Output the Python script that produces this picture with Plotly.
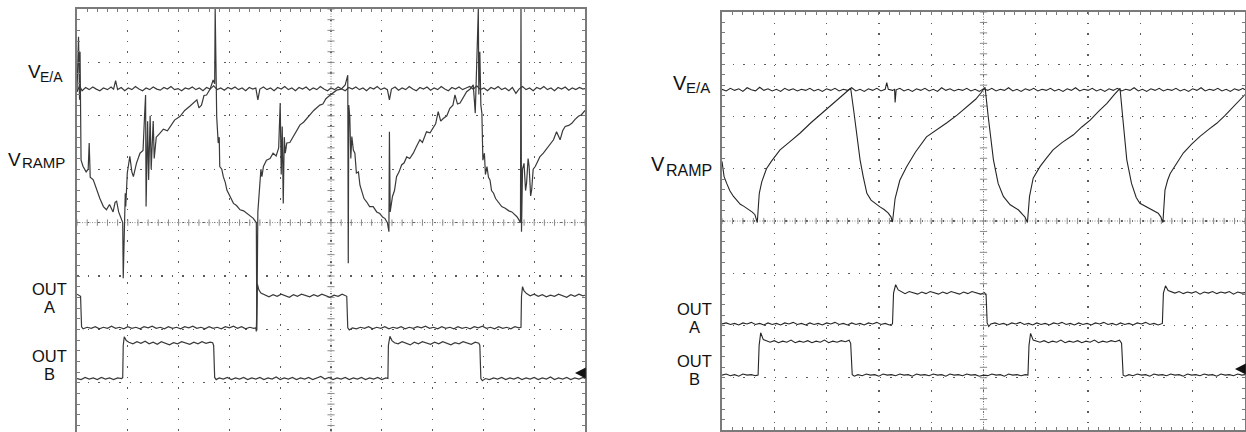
import numpy as np
import plotly.graph_objects as go

W, H = 1246, 432

# ---------------- data (time in divisions 0..10, amplitude in divisions 0..8) -------------
# Left screen
L_VEA = [(0.00,6.45),(0.05,6.56),(0.10,6.47),(0.17,6.53),(0.24,6.49),(0.31,6.54),(0.38,6.50),(0.45,6.47),(0.52,6.52),(0.60,6.49),(0.67,6.54),(0.72,6.50),(0.76,6.66),(0.80,6.49),(0.87,6.53),(0.94,6.47),(1.01,6.52),(1.08,6.49),(1.15,6.55),(1.22,6.50),(1.29,6.47),(1.36,6.52),(1.43,6.49),(1.50,6.54),(1.57,6.50),(1.64,6.48),(1.71,6.53),(1.78,6.50),(1.85,6.55),(1.92,6.49),(1.99,6.51),(2.06,6.47),(2.13,6.52),(2.20,6.50),(2.27,6.54),(2.34,6.49),(2.41,6.52),(2.48,6.47),(2.55,6.53),(2.62,6.50),(2.69,6.56),(2.76,6.49),(2.83,6.52),(2.90,6.48),(2.97,6.53),(3.04,6.50),(3.11,6.54),(3.18,6.49),(3.25,6.52),(3.32,6.47),(3.39,6.53),(3.46,6.50),(3.52,6.52),(3.56,6.30),(3.60,6.50),(3.67,6.54),(3.74,6.49),(3.81,6.52),(3.88,6.47),(3.95,6.53),(4.02,6.50),(4.09,6.55),(4.16,6.49),(4.23,6.52),(4.30,6.47),(4.37,6.53),(4.44,6.50),(4.51,6.54),(4.58,6.48),(4.65,6.52),(4.72,6.49),(4.79,6.55),(4.86,6.50),(4.93,6.47),(5.00,6.52),(5.07,6.49),(5.14,6.54),(5.21,6.50),(5.28,6.47),(5.35,6.53),(5.42,6.50),(5.49,6.54),(5.56,6.49),(5.63,6.52),(5.70,6.47),(5.77,6.53),(5.84,6.50),(5.91,6.55),(5.98,6.49),(6.05,6.52),(6.11,6.49),(6.15,6.30),(6.19,6.50),(6.26,6.54),(6.33,6.48),(6.40,6.52),(6.47,6.49),(6.54,6.55),(6.61,6.50),(6.68,6.47),(6.75,6.53),(6.82,6.50),(6.89,6.54),(6.96,6.48),(7.03,6.52),(7.10,6.49),(7.17,6.55),(7.24,6.50),(7.31,6.47),(7.38,6.53),(7.45,6.50),(7.52,6.54),(7.59,6.49),(7.66,6.52),(7.73,6.55),(7.80,6.50),(7.87,6.56),(7.94,6.49),(8.01,6.52),(8.08,6.47),(8.15,6.53),(8.22,6.50),(8.29,6.55),(8.36,6.49),(8.43,6.52),(8.50,6.47),(8.57,6.53),(8.64,6.42),(8.70,6.50),(8.77,6.55),(8.84,6.49),(8.91,6.52),(8.98,6.47),(9.05,6.53),(9.12,6.50),(9.19,6.55),(9.26,6.49),(9.33,6.52),(9.40,6.47),(9.47,6.53),(9.54,6.50),(9.61,6.54),(9.68,6.48),(9.75,6.52),(9.82,6.49),(9.89,6.53),(9.96,6.50),(10.0,6.51)]

L_RAMP = [(0.00,6.45),(0.03,7.48),(0.05,6.30),(0.06,7.20),(0.08,5.17),(0.12,5.05),(0.18,4.95),(0.22,5.00),(0.24,5.49),(0.26,4.85),(0.32,4.80),(0.39,4.61),(0.45,4.45),(0.52,4.30),(0.58,4.24),(0.64,4.34),(0.71,4.20),(0.75,4.38),(0.78,4.40),(0.82,4.20),(0.85,4.11),(0.90,4.00),(0.91,2.96),(0.93,3.60),(0.95,4.55),(0.96,4.30),(0.99,4.93),(1.04,5.24),(1.08,4.95),(1.11,4.86),(1.17,5.11),(1.24,5.30),(1.30,5.35),(1.33,6.00),(1.35,6.39),(1.36,4.30),(1.39,5.90),(1.41,4.80),(1.44,6.00),(1.46,5.00),(1.50,5.90),(1.52,5.20),(1.56,5.60),(1.63,5.67),(1.70,5.75),(1.78,5.72),(1.83,5.80),(1.92,5.92),(2.03,5.99),(2.12,6.10),(2.22,6.18),(2.30,6.25),(2.36,6.30),(2.40,6.15),(2.45,6.20),(2.50,6.38),(2.55,6.39),(2.62,6.50),(2.68,6.67),(2.71,6.60),(2.72,8.00),(2.735,7.00),(2.75,5.98),(2.78,5.49),(2.80,5.60),(2.81,5.05),(2.85,5.00),(2.88,4.86),(2.92,4.75),(2.95,4.61),(3.01,4.49),(3.08,4.36),(3.14,4.32),(3.21,4.24),(3.28,4.22),(3.34,4.17),(3.42,4.12),(3.47,4.08),(3.53,4.00),(3.54,1.98),(3.56,4.20),(3.59,4.61),(3.62,5.00),(3.64,4.86),(3.67,5.05),(3.73,5.17),(3.80,5.20),(3.86,5.30),(3.92,5.25),(3.97,5.40),(4.00,6.24),(4.02,4.90),(4.04,5.80),(4.06,4.36),(4.08,5.60),(4.10,5.30),(4.13,5.49),(4.19,5.50),(4.26,5.61),(4.32,5.70),(4.39,5.83),(4.46,5.88),(4.52,5.95),(4.59,6.02),(4.66,6.10),(4.72,6.15),(4.78,6.20),(4.84,6.22),(4.90,6.32),(4.95,6.36),(5.03,6.42),(5.11,6.48),(5.20,6.50),(5.28,6.58),(5.33,6.76),(5.34,3.24),(5.35,6.20),(5.37,5.98),(5.39,5.20),(5.41,5.61),(5.44,5.36),(5.47,5.30),(5.50,4.93),(5.54,4.95),(5.57,4.70),(5.60,4.61),(5.65,4.45),(5.70,4.39),(5.76,4.30),(5.83,4.30),(5.90,4.20),(5.96,4.17),(6.02,4.10),(6.06,4.08),(6.11,4.00),(6.14,3.83),(6.15,5.70),(6.165,4.20),(6.21,4.49),(6.25,4.60),(6.29,4.86),(6.34,4.95),(6.39,5.08),(6.44,5.12),(6.49,5.23),(6.55,5.20),(6.62,5.30),(6.68,5.42),(6.75,5.55),(6.80,5.50),(6.88,5.70),(6.95,5.68),(7.01,5.76),(7.06,5.85),(7.11,6.08),(7.16,5.90),(7.21,5.95),(7.28,6.00),(7.34,6.14),(7.40,6.20),(7.44,6.39),(7.49,6.22),(7.54,6.24),(7.60,6.35),(7.67,6.45),(7.74,6.50),(7.80,6.58),(7.84,6.05),(7.86,6.64),(7.89,7.50),(7.90,8.00),(7.91,6.40),(7.93,7.20),(7.95,6.20),(7.97,6.05),(7.99,5.17),(8.02,5.30),(8.04,4.90),(8.07,5.05),(8.10,4.85),(8.13,4.80),(8.16,4.60),(8.20,4.55),(8.24,4.45),(8.29,4.39),(8.36,4.30),(8.43,4.27),(8.50,4.22),(8.56,4.20),(8.62,4.15),(8.66,4.11),(8.70,4.05),(8.73,4.00),(8.74,8.00),(8.75,3.83),(8.77,5.00),(8.80,5.11),(8.83,4.60),(8.85,4.74),(8.88,5.20),(8.90,5.05),(8.93,4.50),(8.95,4.61),(8.98,5.00),(9.02,5.05),(9.07,5.15),(9.11,5.23),(9.18,5.30),(9.25,5.39),(9.31,5.45),(9.38,5.55),(9.44,5.70),(9.51,5.55),(9.56,5.72),(9.61,5.80),(9.68,5.82),(9.74,5.86),(9.80,5.93),(9.87,5.99),(9.93,6.02),(9.97,6.08),(10.0,6.10)]

L_OUTA = [(0.00,2.66),(0.04,2.64),(0.07,2.62),(0.09,2.05),(0.12,2.01),(0.20,2.04),(0.28,2.02),(0.36,2.05),(0.44,2.01),(0.52,2.04),(0.60,2.02),(0.68,2.06),(0.76,2.02),(0.84,2.04),(0.92,2.01),(1.00,2.05),(1.08,2.02),(1.16,2.04),(1.24,2.01),(1.32,2.05),(1.40,2.03),(1.48,2.06),(1.56,2.02),(1.64,2.04),(1.72,2.01),(1.80,2.05),(1.88,2.02),(1.96,2.04),(2.04,2.01),(2.12,2.05),(2.20,2.03),(2.28,2.06),(2.36,2.02),(2.44,2.04),(2.52,2.01),(2.60,2.05),(2.68,2.02),(2.76,2.04),(2.84,2.01),(2.92,2.05),(3.00,2.03),(3.08,2.06),(3.16,2.02),(3.24,2.05),(3.32,2.01),(3.40,2.04),(3.48,2.02),(3.52,2.03),(3.53,1.96),(3.55,2.85),(3.58,2.74),(3.62,2.68),(3.70,2.64),(3.78,2.61),(3.86,2.65),(3.94,2.62),(4.02,2.66),(4.10,2.63),(4.18,2.60),(4.26,2.65),(4.34,2.62),(4.42,2.66),(4.50,2.63),(4.58,2.61),(4.66,2.65),(4.74,2.62),(4.82,2.66),(4.90,2.63),(4.98,2.60),(5.06,2.64),(5.14,2.62),(5.22,2.66),(5.29,2.64),(5.31,2.62),(5.33,2.03),(5.36,1.99),(5.42,2.03),(5.50,2.01),(5.58,2.04),(5.66,2.02),(5.74,2.05),(5.82,2.01),(5.90,2.04),(5.98,2.02),(6.06,2.05),(6.14,2.01),(6.22,2.04),(6.30,2.02),(6.38,2.05),(6.46,2.01),(6.54,2.04),(6.62,2.02),(6.70,2.05),(6.78,2.03),(6.86,2.06),(6.94,2.02),(7.02,2.04),(7.10,2.01),(7.18,2.05),(7.26,2.02),(7.34,2.04),(7.42,2.01),(7.50,2.05),(7.58,2.02),(7.66,2.04),(7.74,2.01),(7.82,2.05),(7.90,2.03),(7.98,2.06),(8.06,2.02),(8.14,2.04),(8.22,2.01),(8.30,2.05),(8.38,2.02),(8.46,2.04),(8.54,2.01),(8.62,2.05),(8.70,2.03),(8.74,2.04),(8.75,2.62),(8.77,2.80),(8.80,2.72),(8.85,2.67),(8.92,2.63),(9.00,2.66),(9.08,2.62),(9.16,2.65),(9.24,2.61),(9.32,2.64),(9.40,2.62),(9.48,2.66),(9.56,2.63),(9.64,2.60),(9.72,2.65),(9.80,2.62),(9.88,2.66),(9.96,2.63),(10.0,2.64)]

L_OUTB = [(0.00,1.08),(0.08,1.06),(0.16,1.10),(0.24,1.07),(0.32,1.09),(0.40,1.06),(0.48,1.10),(0.56,1.07),(0.64,1.09),(0.72,1.06),(0.80,1.09),(0.88,1.08),(0.90,1.10),(0.91,1.70),(0.93,1.86),(0.97,1.79),(1.02,1.76),(1.10,1.73),(1.18,1.77),(1.26,1.74),(1.34,1.78),(1.42,1.73),(1.50,1.76),(1.58,1.72),(1.66,1.77),(1.74,1.74),(1.82,1.71),(1.90,1.75),(1.98,1.73),(2.06,1.77),(2.14,1.74),(2.22,1.72),(2.30,1.76),(2.38,1.73),(2.46,1.77),(2.54,1.74),(2.62,1.76),(2.67,1.75),(2.69,1.70),(2.71,1.10),(2.74,1.06),(2.80,1.09),(2.88,1.07),(2.96,1.10),(3.04,1.06),(3.12,1.09),(3.20,1.07),(3.28,1.10),(3.36,1.06),(3.44,1.09),(3.52,1.07),(3.60,1.10),(3.68,1.06),(3.76,1.09),(3.84,1.07),(3.92,1.11),(4.00,1.06),(4.08,1.09),(4.16,1.07),(4.24,1.10),(4.32,1.06),(4.40,1.09),(4.48,1.07),(4.56,1.10),(4.64,1.06),(4.72,1.09),(4.80,1.12),(4.88,1.07),(4.96,1.10),(5.04,1.06),(5.12,1.09),(5.20,1.07),(5.28,1.10),(5.36,1.06),(5.44,1.09),(5.52,1.07),(5.60,1.10),(5.68,1.06),(5.76,1.09),(5.84,1.07),(5.92,1.10),(6.00,1.06),(6.08,1.09),(6.12,1.08),(6.13,1.70),(6.16,1.87),(6.20,1.79),(6.25,1.75),(6.32,1.73),(6.40,1.77),(6.48,1.74),(6.56,1.71),(6.64,1.76),(6.72,1.73),(6.80,1.77),(6.88,1.74),(6.96,1.72),(7.04,1.76),(7.12,1.73),(7.20,1.77),(7.28,1.74),(7.36,1.71),(7.44,1.75),(7.52,1.73),(7.60,1.77),(7.68,1.74),(7.76,1.72),(7.84,1.76),(7.91,1.74),(7.93,1.70),(7.95,1.08),(7.98,1.04),(8.04,1.08),(8.12,1.06),(8.20,1.09),(8.28,1.07),(8.36,1.10),(8.44,1.06),(8.52,1.09),(8.60,1.07),(8.68,1.10),(8.76,1.06),(8.84,1.09),(8.92,1.07),(9.00,1.10),(9.08,1.06),(9.16,1.09),(9.24,1.07),(9.32,1.11),(9.40,1.06),(9.48,1.09),(9.56,1.07),(9.64,1.10),(9.72,1.06),(9.80,1.09),(9.88,1.07),(9.96,1.10),(10.0,1.08)]

# Right screen
R_VEA = [(0.00,6.52),(0.08,6.49),(0.16,6.54),(0.24,6.50),(0.32,6.53),(0.40,6.48),(0.48,6.55),(0.56,6.51),(0.64,6.49),(0.72,6.56),(0.80,6.50),(0.88,6.53),(0.96,6.49),(1.04,6.52),(1.12,6.48),(1.20,6.54),(1.28,6.50),(1.36,6.53),(1.44,6.49),(1.52,6.52),(1.60,6.50),(1.68,6.54),(1.76,6.49),(1.84,6.52),(1.92,6.48),(2.00,6.53),(2.08,6.50),(2.16,6.54),(2.24,6.49),(2.32,6.52),(2.40,6.50),(2.48,6.55),(2.56,6.49),(2.64,6.52),(2.72,6.48),(2.80,6.53),(2.88,6.50),(2.96,6.54),(3.04,6.49),(3.12,6.52),(3.15,6.65),(3.18,6.52),(3.26,6.50),(3.30,6.52),(3.31,6.27),(3.33,6.51),(3.40,6.54),(3.48,6.49),(3.56,6.52),(3.64,6.48),(3.72,6.53),(3.80,6.50),(3.88,6.54),(3.96,6.49),(4.04,6.52),(4.12,6.48),(4.20,6.55),(4.28,6.50),(4.36,6.53),(4.44,6.49),(4.52,6.52),(4.60,6.50),(4.68,6.54),(4.76,6.49),(4.84,6.52),(4.92,6.48),(5.00,6.53),(5.08,6.50),(5.16,6.54),(5.24,6.49),(5.32,6.52),(5.40,6.50),(5.48,6.55),(5.56,6.49),(5.64,6.52),(5.72,6.48),(5.80,6.53),(5.88,6.50),(5.96,6.54),(6.04,6.49),(6.12,6.52),(6.20,6.50),(6.28,6.54),(6.36,6.49),(6.44,6.52),(6.52,6.48),(6.60,6.53),(6.68,6.50),(6.76,6.55),(6.84,6.49),(6.92,6.52),(7.00,6.50),(7.08,6.54),(7.16,6.49),(7.24,6.52),(7.32,6.48),(7.40,6.53),(7.48,6.50),(7.56,6.54),(7.64,6.49),(7.72,6.52),(7.80,6.50),(7.88,6.55),(7.96,6.49),(8.04,6.52),(8.12,6.48),(8.20,6.53),(8.28,6.50),(8.36,6.54),(8.44,6.49),(8.52,6.52),(8.60,6.50),(8.68,6.54),(8.76,6.49),(8.84,6.52),(8.92,6.48),(9.00,6.53),(9.08,6.50),(9.16,6.55),(9.24,6.49),(9.32,6.52),(9.40,6.50),(9.48,6.54),(9.56,6.49),(9.64,6.52),(9.72,6.48),(9.80,6.53),(9.88,6.50),(9.96,6.54),(10.0,6.51)]

R_RAMP = [(0.00,5.14),(0.04,4.85),(0.09,4.72),(0.15,4.58),(0.22,4.47),(0.28,4.40),(0.35,4.32),(0.42,4.28),(0.48,4.24),(0.535,4.21),(0.58,4.17),(0.63,4.12),(0.675,3.97),(0.70,4.35),(0.713,4.53),(0.76,4.75),(0.85,5.00),(0.95,5.15),(1.11,5.36),(1.30,5.52),(1.49,5.68),(1.70,5.88),(1.94,6.09),(2.10,6.24),(2.26,6.38),(2.38,6.47),(2.46,6.54),(2.52,6.10),(2.58,5.60),(2.64,5.17),(2.70,4.85),(2.77,4.53),(2.85,4.40),(2.95,4.32),(3.02,4.27),(3.10,4.22),(3.18,4.15),(3.23,4.08),(3.26,3.98),(3.31,4.43),(3.40,4.78),(3.53,5.04),(3.70,5.32),(3.91,5.61),(4.17,5.78),(4.30,5.88),(4.50,6.03),(4.70,6.20),(4.85,6.33),(4.95,6.45),(5.03,6.56),(5.09,6.00),(5.14,5.55),(5.19,5.17),(5.28,4.72),(5.38,4.47),(5.51,4.31),(5.60,4.26),(5.67,4.21),(5.75,4.12),(5.79,4.08),(5.84,3.97),(5.88,4.47),(5.95,4.82),(6.08,5.04),(6.20,5.20),(6.33,5.36),(6.50,5.50),(6.72,5.65),(6.88,5.80),(7.04,5.93),(7.20,6.10),(7.36,6.25),(7.50,6.42),(7.61,6.54),(7.67,5.90),(7.74,5.17),(7.83,4.72),(7.92,4.45),(7.99,4.34),(8.10,4.28),(8.18,4.24),(8.26,4.20),(8.34,4.15),(8.39,4.08),(8.43,3.97),(8.47,4.59),(8.52,4.78),(8.57,4.91),(8.70,5.12),(8.82,5.30),(8.98,5.47),(9.14,5.62),(9.30,5.75),(9.46,5.87),(9.62,6.02),(9.78,6.19),(9.90,6.32),(10.0,6.42)]

R_OUTA = [(0.00,2.03),(0.08,2.05),(0.16,2.02),(0.24,2.04),(0.32,2.01),(0.40,2.05),(0.48,2.03),(0.56,2.06),(0.64,2.02),(0.72,2.04),(0.80,2.01),(0.88,2.05),(0.96,2.02),(1.04,2.04),(1.12,2.01),(1.20,2.05),(1.28,2.03),(1.36,2.06),(1.44,2.02),(1.52,2.04),(1.60,2.01),(1.68,2.05),(1.76,2.02),(1.84,2.04),(1.92,2.01),(2.00,2.05),(2.08,2.03),(2.16,2.06),(2.24,2.02),(2.32,2.04),(2.40,2.01),(2.48,2.05),(2.56,2.02),(2.64,2.04),(2.72,2.01),(2.80,2.05),(2.88,2.03),(2.96,2.06),(3.04,2.02),(3.12,2.04),(3.20,2.01),(3.26,2.03),(3.28,2.62),(3.32,2.78),(3.37,2.68),(3.43,2.64),(3.50,2.61),(3.58,2.65),(3.66,2.62),(3.74,2.60),(3.82,2.64),(3.90,2.61),(3.98,2.65),(4.06,2.62),(4.14,2.60),(4.22,2.64),(4.30,2.61),(4.38,2.65),(4.46,2.62),(4.54,2.60),(4.62,2.64),(4.70,2.61),(4.78,2.65),(4.86,2.62),(4.94,2.60),(5.02,2.63),(5.04,2.61),(5.05,2.58),(5.07,2.05),(5.10,1.98),(5.14,2.03),(5.22,2.05),(5.30,2.02),(5.38,2.04),(5.46,2.01),(5.54,2.05),(5.62,2.03),(5.70,2.06),(5.78,2.02),(5.86,2.04),(5.94,2.01),(6.02,2.05),(6.10,2.02),(6.18,2.04),(6.26,2.01),(6.34,2.05),(6.42,2.03),(6.50,2.06),(6.58,2.02),(6.66,2.04),(6.74,2.01),(6.82,2.05),(6.90,2.02),(6.98,2.04),(7.06,2.01),(7.14,2.05),(7.22,2.03),(7.30,2.06),(7.38,2.02),(7.46,2.04),(7.54,2.01),(7.62,2.05),(7.70,2.02),(7.78,2.04),(7.86,2.01),(7.94,2.05),(8.02,2.03),(8.10,2.06),(8.18,2.02),(8.26,2.04),(8.34,2.01),(8.42,2.04),(8.44,2.62),(8.48,2.76),(8.53,2.67),(8.58,2.65),(8.66,2.62),(8.74,2.65),(8.82,2.61),(8.90,2.64),(8.98,2.62),(9.06,2.65),(9.14,2.60),(9.22,2.64),(9.30,2.62),(9.38,2.65),(9.46,2.61),(9.54,2.64),(9.62,2.62),(9.70,2.65),(9.78,2.60),(9.86,2.64),(9.94,2.62),(10.0,2.63)]

R_OUTB = [(0.00,1.05),(0.08,1.07),(0.16,1.04),(0.24,1.06),(0.32,1.03),(0.40,1.07),(0.48,1.05),(0.56,1.06),(0.64,1.04),(0.69,1.05),(0.71,1.62),(0.74,1.86),(0.79,1.73),(0.85,1.70),(0.92,1.68),(1.00,1.71),(1.08,1.67),(1.16,1.70),(1.24,1.68),(1.32,1.72),(1.40,1.67),(1.48,1.70),(1.56,1.68),(1.64,1.71),(1.72,1.67),(1.80,1.70),(1.88,1.68),(1.96,1.72),(2.04,1.67),(2.12,1.70),(2.20,1.68),(2.28,1.71),(2.36,1.69),(2.43,1.72),(2.45,1.69),(2.46,1.66),(2.49,1.06),(2.53,1.03),(2.60,1.06),(2.68,1.04),(2.76,1.07),(2.84,1.05),(2.92,1.06),(3.00,1.03),(3.08,1.07),(3.16,1.05),(3.24,1.06),(3.32,1.04),(3.40,1.07),(3.48,1.05),(3.56,1.06),(3.64,1.03),(3.72,1.07),(3.80,1.05),(3.88,1.06),(3.96,1.04),(4.04,1.07),(4.12,1.05),(4.20,1.06),(4.28,1.03),(4.36,1.07),(4.44,1.05),(4.52,1.06),(4.60,1.04),(4.68,1.07),(4.76,1.05),(4.84,1.06),(4.92,1.03),(5.00,1.05),(5.08,1.04),(5.16,1.07),(5.24,1.05),(5.32,1.06),(5.40,1.03),(5.48,1.07),(5.56,1.05),(5.64,1.06),(5.72,1.04),(5.80,1.06),(5.85,1.05),(5.87,1.62),(5.90,1.85),(5.95,1.72),(6.01,1.70),(6.08,1.68),(6.16,1.71),(6.24,1.67),(6.32,1.70),(6.40,1.68),(6.48,1.72),(6.56,1.67),(6.64,1.70),(6.72,1.68),(6.80,1.71),(6.88,1.67),(6.96,1.70),(7.04,1.68),(7.12,1.72),(7.20,1.67),(7.28,1.70),(7.36,1.68),(7.44,1.71),(7.52,1.69),(7.60,1.72),(7.63,1.69),(7.64,1.66),(7.67,1.05),(7.71,1.03),(7.78,1.06),(7.86,1.04),(7.94,1.07),(8.02,1.05),(8.10,1.06),(8.18,1.03),(8.26,1.07),(8.34,1.05),(8.42,1.06),(8.50,1.04),(8.58,1.07),(8.66,1.05),(8.74,1.06),(8.82,1.03),(8.90,1.07),(8.98,1.05),(9.06,1.06),(9.14,1.04),(9.22,1.07),(9.30,1.05),(9.38,1.06),(9.46,1.03),(9.54,1.07),(9.62,1.05),(9.70,1.06),(9.78,1.04),(9.86,1.07),(9.94,1.05),(10.0,1.06)]

# Labels: (text, x_px, y_px, size, anchor)
L_LABELS = [("V", 41.5, 72, 19, "right"), ("E/A", 64, 76.5, 14, "right"),
            ("V", 22, 159, 19, "right"), ("RAMP", 66, 162.5, 15, "right"),
            ("OUT", 49, 288.5, 16.5, "center"), ("A", 49, 306.5, 16.5, "center"),
            ("OUT", 49, 355.5, 16.5, "center"), ("B", 49, 373.5, 16.5, "center")]
R_LABELS = [("V", 688, 82.5, 20, "right"), ("E/A", 711, 87.5, 15, "right"),
            ("V", 666, 164, 20, "right"), ("RAMP", 713, 170, 16, "right"),
            ("OUT", 694, 309, 16.5, "center"), ("A", 694, 327, 16.5, "center"),
            ("OUT", 694, 360.5, 16.5, "center"), ("B", 694, 378.5, 16.5, "center")]

# ---------------- styling -------------
FRAME = "#7a7a7a"
GRID = "#5a5a5a"
CENTER = "#8a8a8a"
FONT = "Liberation Sans, Arial, sans-serif"

fig = go.Figure()

def add_trace(pairs, xa, ya, color, width):
    xs = [p[0] for p in pairs]
    ys = [p[1] for p in pairs]
    fig.add_trace(go.Scatter(x=xs, y=ys, mode="lines", xaxis=xa, yaxis=ya,
                             line=dict(color=color, width=width),
                             hoverinfo="skip", showlegend=False))

LC = "#3a3a3a"
RC = "#262626"
for tr in (L_VEA, L_RAMP, L_OUTA, L_OUTB):
    add_trace(tr, "x", "y", LC, 1.2)
for tr in (R_VEA, R_RAMP, R_OUTA, R_OUTB):
    add_trace(tr, "x2", "y2", RC, 1.1)

def axis(domain, anchor, rng, side=None, mirror="ticks", dash="1.5px,9px"):
    d = dict(domain=domain, anchor=anchor, range=rng, dtick=1, tick0=0,
             showgrid=True, gridcolor=GRID, gridwidth=1.3, griddash=dash,
             ticks="inside", ticklen=3, tickwidth=1, tickcolor=FRAME,
             showline=True, linecolor=FRAME, linewidth=2, mirror=mirror,
             showticklabels=False, zeroline=False, fixedrange=True,
             minor=dict(dtick=0.2, tick0=0, ticks="inside", ticklen=3,
                        tickwidth=1, tickcolor=FRAME, showgrid=False))
    if side:
        d["side"] = side
    return d

L_YTOP, L_YBOT = 9, 432
L_YMIN = 8 - (L_YBOT - L_YTOP) / 53.4
fig.update_layout(
    xaxis=axis([77 / W, 585 / W], "y", [0, 10], side="top", mirror=False),
    yaxis=axis([0, 1 - L_YTOP / H], "x", [L_YMIN, 8]),
    xaxis2=axis([722 / W, 1245 / W], "y2", [0, 10]),
    yaxis2=axis([1 - 430 / H, 1 - 12 / H], "x2", [0, 8]),
)

# graticule centre lines with their small ticks
shapes = []
for xr, yr, ymin in (("x", "y", L_YMIN), ("x2", "y2", 0)):
    shapes.append(dict(type="line", xref=xr, yref=yr, x0=0, x1=10, y0=4, y1=4,
                       line=dict(color=CENTER, width=1, dash="1px,1.5px"), layer="between"))
    shapes.append(dict(type="line", xref=xr, yref=yr, x0=5, x1=5, y0=ymin, y1=8,
                       line=dict(color=CENTER, width=1, dash="1px,1.5px"), layer="between"))
    for t in np.arange(0, 10.001, 0.2):
        shapes.append(dict(type="line", xref=xr, yref=yr, x0=t, x1=t, y0=3.94, y1=4.06,
                           line=dict(color=CENTER, width=1), layer="between"))
    for t in np.arange(0, 8.001, 0.2):
        if t < ymin:
            continue
        shapes.append(dict(type="line", xref=xr, yref=yr, x0=4.93, x1=5.07, y0=t, y1=t,
                           line=dict(color=CENTER, width=1), layer="between"))

annotations = []
for text, xp, yp, size, anchor in L_LABELS + R_LABELS:
    annotations.append(dict(text=text, xref="paper", yref="paper", x=xp / W, y=1 - yp / H,
                            xanchor=anchor, yanchor="middle", showarrow=False, borderpad=0,
                            font=dict(family=FONT, size=size, color="#111")))
# ground-reference arrows at the right edge of each screen
for xp, yp in ((575, 373), (1235, 369)):
    annotations.append(dict(text="", xref="paper", yref="paper", x=xp / W, y=1 - yp / H,
                            ax=11, ay=0, showarrow=True, arrowhead=2, arrowsize=1.2,
                            arrowwidth=1.8, arrowcolor="#111"))

fig.update_layout(
    width=W, height=H, autosize=False,
    margin=dict(l=0, r=0, t=0, b=0),
    paper_bgcolor="white", plot_bgcolor="white",
    shapes=shapes, annotations=annotations,
    showlegend=False,
)

fig.write_html("out.html", config={"displayModeBar": False, "staticPlot": True})
